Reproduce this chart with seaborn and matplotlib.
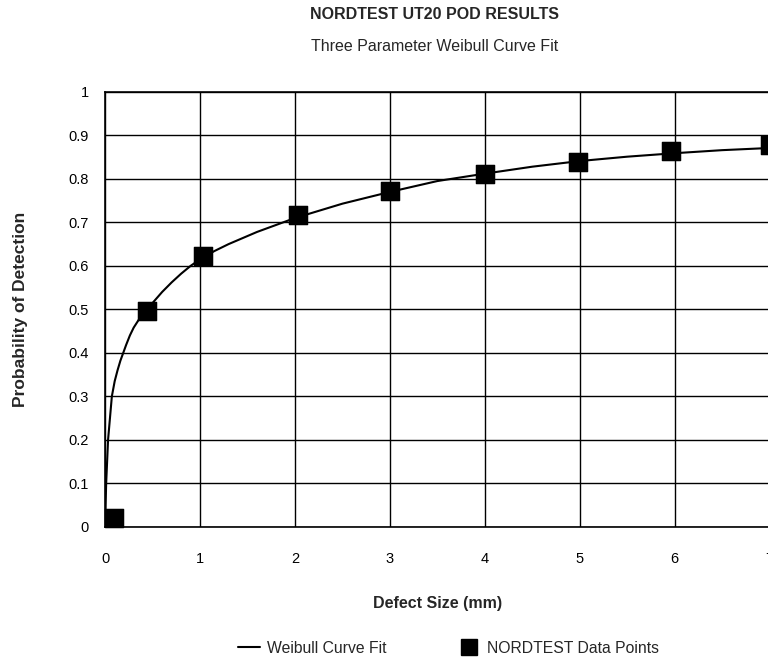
import pandas as pd
import seaborn as sns
import matplotlib.pyplot as plt
from matplotlib.lines import Line2D

# NORDTEST data points (defect size mm, POD)
point_size = [0.09, 0.44, 1.03, 2.03, 3.0, 4.0, 4.98, 5.96, 7.0]
point_pod = [0.02, 0.497, 0.623, 0.718, 0.772, 0.812, 0.838, 0.863, 0.879]

# Weibull curve fit
curve_size = [0.0, 0.004, 0.01, 0.03, 0.07, 0.1, 0.13, 0.16, 0.19, 0.22,
              0.26, 0.3, 0.35, 0.4, 0.44, 0.5, 0.6, 0.7, 0.8, 0.9, 1.0,
              1.15, 1.3, 1.6, 2.0, 2.5, 3.0, 3.5, 4.0, 4.5, 5.0, 5.5, 6.0,
              6.5, 7.0]
curve_pod = [0.0, 0.05, 0.1, 0.2, 0.3, 0.335, 0.36, 0.382, 0.4, 0.418,
             0.44, 0.458, 0.475, 0.49, 0.5, 0.515, 0.54, 0.562, 0.582,
             0.6, 0.615, 0.634, 0.65, 0.678, 0.71, 0.743, 0.77, 0.795,
             0.812, 0.828, 0.841, 0.851, 0.859, 0.866, 0.871]

x_ticks = [0, 1, 2, 3, 4, 5, 6, 7]
y_ticks = [0, 0.1, 0.2, 0.3, 0.4, 0.5, 0.6, 0.7, 0.8, 0.9, 1]
y_labels = ["0", "0.1", "0.2", "0.3", "0.4", "0.5", "0.6", "0.7", "0.8", "0.9", "1"]

df_curve = pd.DataFrame({"size": curve_size, "pod": curve_pod})
df_points = pd.DataFrame({"size": point_size, "pod": point_pod})

sns.set_style("whitegrid")
plt.rcParams["font.family"] = ["Liberation Sans", "DejaVu Sans"]

fig = plt.figure(figsize=(7.68, 6.61), dpi=100)
ax = fig.add_axes([0.137, 0.203, 0.865, 0.658])

sns.lineplot(data=df_curve, x="size", y="pod", color="black", linewidth=1.5, ax=ax)
sns.scatterplot(data=df_points, x="size", y="pod", marker="s", s=180,
                color="black", edgecolor="black", ax=ax, zorder=5, clip_on=False)

ax.set_xlim(0, 7)
ax.set_ylim(0, 1)
ax.set_xticks(x_ticks)
ax.set_yticks(y_ticks)
ax.set_yticklabels(y_labels)
ax.grid(True, color="black", linewidth=1.0)
for s in ax.spines.values():
    s.set_color("black")
    s.set_linewidth(1.2)
ax.tick_params(axis="both", length=0, labelsize=10.5, colors="black")
ax.tick_params(axis="x", pad=18)
ax.tick_params(axis="y", pad=12)

ax.set_xlabel("Defect Size (mm)", fontsize=11.5, fontweight="bold", labelpad=22)
ax.set_ylabel("Probability of Detection", fontsize=12.5, fontweight="bold", labelpad=29)

fig.text(0.566, 0.978, "NORDTEST UT20 POD RESULTS", ha="center", va="center",
         fontsize=11.5, fontweight="bold")
fig.text(0.566, 0.930, "Three Parameter Weibull Curve Fit", ha="center", va="center",
         fontsize=11.5)

handles = [
    Line2D([0], [0], color="black", linewidth=1.5),
    Line2D([0], [0], color="black", marker="s", markersize=11, linestyle="none"),
]
fig.legend(handles, ["Weibull Curve Fit", "NORDTEST Data Points"],
           loc="center", bbox_to_anchor=(0.584, 0.019), ncol=2, frameon=False,
           fontsize=11.3, handlelength=1.4, columnspacing=4.6, handletextpad=0.45)

plt.savefig("out.png", dpi=100)
